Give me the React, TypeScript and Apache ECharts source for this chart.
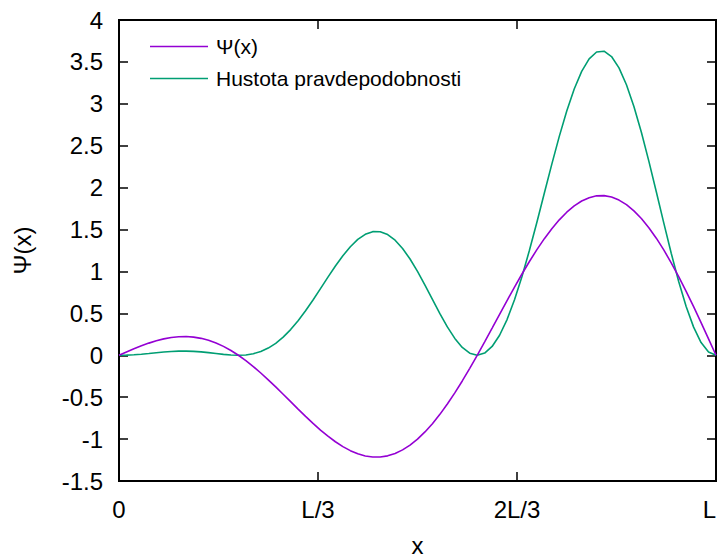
import React, { useEffect, useRef } from "react";
import * as echarts from "echarts";

// x positions in units of L/3 (0 .. 3 corresponds to 0 .. L)
const xs = [
  0, 0.0375, 0.075, 0.1125, 0.15, 0.1875, 0.225, 0.2625, 0.3, 0.3375,
  0.375, 0.4125, 0.45, 0.4875, 0.525, 0.5625, 0.6, 0.6375, 0.675, 0.7125,
  0.75, 0.7875, 0.825, 0.8625, 0.9, 0.9375, 0.975, 1.0125, 1.05, 1.0875,
  1.125, 1.1625, 1.2, 1.2375, 1.275, 1.3125, 1.35, 1.3875, 1.425, 1.4625,
  1.5, 1.5375, 1.575, 1.6125, 1.65, 1.6875, 1.725, 1.7625, 1.8, 1.8375,
  1.875, 1.9125, 1.95, 1.9875, 2.025, 2.0625, 2.1, 2.1375, 2.175, 2.2125,
  2.25, 2.2875, 2.325, 2.3625, 2.4, 2.4375, 2.475, 2.5125, 2.55, 2.5875,
  2.625, 2.6625, 2.7, 2.7375, 2.775, 2.8125, 2.85, 2.8875, 2.925, 2.9625,
  3,
];

const psi = [
  0, 0.039, 0.077, 0.1127, 0.145, 0.1729, 0.1954, 0.2118, 0.2212, 0.2231,
  0.2168, 0.202, 0.1787, 0.1466, 0.1059, 0.0569, 0, -0.0643, -0.1351, -0.2116,
  -0.2929, -0.3778, -0.4652, -0.5537, -0.6421, -0.7288, -0.8125, -0.8919, -0.9654, -1.0318,
  -1.0898, -1.138, -1.1756, -1.2013, -1.2144, -1.2142, -1.2, -1.1716, -1.1288, -1.0716,
  -1.0, -0.9146, -0.816, -0.7048, -0.582, -0.4488, -0.3064, -0.1563, 0, 0.1608,
  0.3244, 0.489, 0.6526, 0.8133, 0.9695, 1.119, 1.2601, 1.3911, 1.5102, 1.616,
  1.7071, 1.7822, 1.8403, 1.8805, 1.9022, 1.9047, 1.8879, 1.8518, 1.7967, 1.7228,
  1.631, 1.5219, 1.3968, 1.2568, 1.1034, 0.9383, 0.763, 0.5795, 0.3898, 0.196,
  0,
];

const density = [
  0, 0.0015, 0.0059, 0.0127, 0.021, 0.0299, 0.0382, 0.0449, 0.0489, 0.0498,
  0.047, 0.0408, 0.0319, 0.0215, 0.0112, 0.0032, 0, 0.0041, 0.0183, 0.0448,
  0.0858, 0.1427, 0.2164, 0.3066, 0.4123, 0.5312, 0.6602, 0.7955, 0.932, 1.0646,
  1.1877, 1.295, 1.382, 1.4431, 1.4748, 1.4743, 1.44, 1.3726, 1.2742, 1.1483,
  1.0, 0.8365, 0.6659, 0.4967, 0.3387, 0.2014, 0.0939, 0.0244, 0, 0.0259,
  0.1052, 0.2391, 0.4259, 0.6615, 0.9399, 1.2522, 1.5879, 1.9352, 2.2807, 2.6115,
  2.9142, 3.1762, 3.3867, 3.5363, 3.6184, 3.6279, 3.5642, 3.4292, 3.2281, 2.968,
  2.6602, 2.3162, 1.9511, 1.5795, 1.2175, 0.8804, 0.5822, 0.3358, 0.1519, 0.0384,
  0,
];

const xTickLabels = ["0", "L/3", "2L/3", "L"];
const seriesNames = ["Ψ(x)", "Hustota pravdepodobnosti"];
const colors = ["#9400d3", "#009e73"];

const FONT = "'Liberation Sans', Arial, Helvetica, sans-serif";

export default function App() {
  const ref = useRef<HTMLDivElement>(null);

  useEffect(() => {
    if (!ref.current) return;
    const chart = echarts.init(ref.current, undefined, { renderer: "svg" });

    const tickCommon = {
      show: true,
      inside: true,
      length: 9,
      lineStyle: { color: "#000", width: 1.5 },
    };
    const hiddenLine = { show: false, onZero: false };

    chart.setOption({
      animation: false,
      backgroundColor: "#fff",
      textStyle: { fontFamily: FONT },
      grid: {
        left: 119,
        right: 4,
        top: 20,
        bottom: 77,
        outerBoundsMode: "none",
        containLabel: false,
        show: true,
        borderColor: "#000",
        borderWidth: 2,
        backgroundColor: "transparent",
      },
      legend: {
        show: true,
        orient: "vertical",
        left: 145,
        top: 31,
        itemWidth: 58,
        itemHeight: 1.6,
        itemGap: 11,
        icon: "rect",
        data: seriesNames,
        textStyle: {
          fontSize: 21,
          color: "#000",
          fontFamily: FONT,
          padding: [0, 0, 0, 3],
        },
      },
      xAxis: [
        {
          type: "value",
          position: "bottom",
          min: 0,
          max: 3,
          interval: 1,
          name: "x",
          nameLocation: "middle",
          nameGap: 52,
          nameTextStyle: { fontSize: 24, color: "#000", fontFamily: FONT },
          axisLine: hiddenLine,
          axisTick: tickCommon,
          splitLine: { show: false },
          axisLabel: {
            fontSize: 24,
            color: "#000",
            margin: 16,
            fontFamily: FONT,
            alignMaxLabel: "right",
            formatter: (v: number) => xTickLabels[Math.round(v)] ?? "",
          },
        },
        {
          type: "value",
          position: "top",
          min: 0,
          max: 3,
          interval: 1,
          axisLine: hiddenLine,
          axisTick: tickCommon,
          splitLine: { show: false },
          axisLabel: { show: false },
        },
      ],
      yAxis: [
        {
          type: "value",
          position: "left",
          min: -1.5,
          max: 4,
          interval: 0.5,
          name: "Ψ(x)",
          nameLocation: "middle",
          nameGap: 85,
          nameRotate: 90,
          nameTextStyle: { fontSize: 24, color: "#000", fontFamily: FONT },
          axisLine: hiddenLine,
          axisTick: tickCommon,
          splitLine: { show: false },
          axisLabel: {
            fontSize: 24,
            color: "#000",
            margin: 16,
            fontFamily: FONT,
          },
        },
        {
          type: "value",
          position: "right",
          min: -1.5,
          max: 4,
          interval: 0.5,
          axisLine: hiddenLine,
          axisTick: tickCommon,
          splitLine: { show: false },
          axisLabel: { show: false },
        },
      ],
      series: [
        {
          name: seriesNames[0],
          type: "line",
          xAxisIndex: 0,
          yAxisIndex: 0,
          data: xs.map((x, i) => [x, psi[i]]),
          symbol: "none",
          smooth: false,
          color: colors[0],
          lineStyle: { color: colors[0], width: 1.6 },
          z: 3,
        },
        {
          name: seriesNames[1],
          type: "line",
          xAxisIndex: 0,
          yAxisIndex: 0,
          data: xs.map((x, i) => [x, density[i]]),
          symbol: "none",
          smooth: false,
          color: colors[1],
          lineStyle: { color: colors[1], width: 1.6 },
          z: 2,
        },
      ],
    });

    return () => chart.dispose();
  }, []);

  return <div ref={ref} style={{ width: 720, height: 558, position: "absolute", left: 0, top: 0 }} />;
}
